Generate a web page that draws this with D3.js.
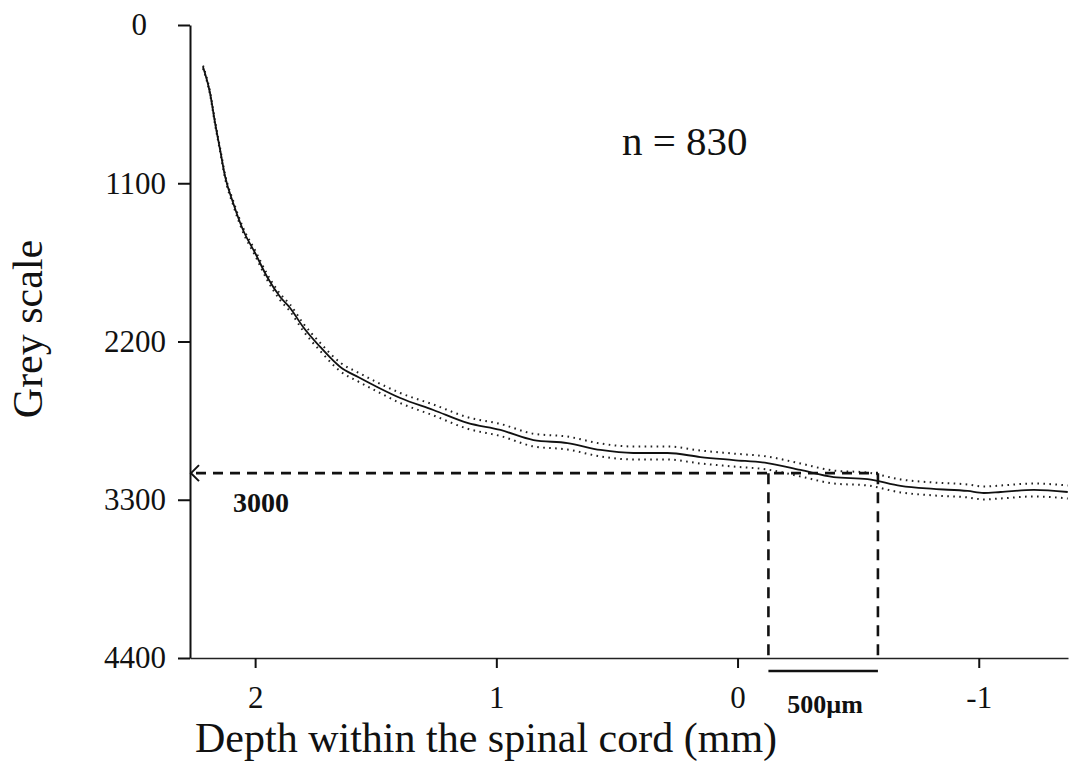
<!DOCTYPE html>
<html>
<head>
<meta charset="utf-8">
<script src="https://cdnjs.cloudflare.com/ajax/libs/d3/7.8.5/d3.min.js"></script>
<style>
  body { margin: 0; background: #fff; }
  svg { display: block; font-family: "Liberation Serif", "Times New Roman", serif; }
</style>
</head>
<body>
<svg width="1072" height="764"></svg>
<script>
// depth (mm), left = superficial
const depth = [2.216, 2.187, 2.166, 2.145, 2.124, 2.091, 2.050, 2.000, 1.950, 1.896,
               1.855, 1.801, 1.730, 1.647, 1.573, 1.494, 1.398, 1.261, 1.120, 0.983,
               0.846, 0.705, 0.568, 0.432, 0.290, 0.154, 0.017, -0.124, -0.261, -0.398,
               -0.539, -0.676, -0.813, -0.954, -1.021, -1.091, -1.228, -1.369];
// mean grey value at each depth
const greyMean = [292, 473, 681, 869, 1057, 1237, 1425, 1585, 1752, 1891,
                  1967, 2099, 2238, 2377, 2447, 2516, 2593, 2676, 2766, 2815,
                  2885, 2906, 2954, 2975, 2975, 3003, 3024, 3045, 3093, 3142,
                  3156, 3204, 3225, 3239, 3253, 3246, 3232, 3246];
// spread of the dotted band (+/-)
const greySem = [10, 10, 12, 12, 14, 15, 16, 18, 20, 22,
                 24, 26, 28, 30, 31, 32, 35, 38, 40, 42,
                 44, 45, 45, 45, 45, 45, 45, 45, 45, 45,
                 45, 45, 45, 45, 45, 45, 45, 45];

const yTicks = [0, 1100, 2200, 3300, 4400];
const xTicks = [2, 1, 0, -1];
const markValue = 3115;          // where the dashed guide sits on the scale
const markLabel = "3000";
const barDepths = [-0.128, -0.582]; // the 500 µm window
const nLabel = "n = 830";

let svg = d3.select("svg");
svg.append("rect").attr("width", 1072).attr("height", 764).attr("fill", "#fff");

let x = d3.scaleLinear().domain([2.27, -1.37]).range([190, 1068]);
let y = d3.scaleLinear().domain([0, 4400]).range([25, 658]);

let rows = depth.map((d, i) => ({d: d, m: greyMean[i], s: greySem[i]}));
const serif = "Liberation Serif, Times New Roman, serif";

// axes
let yAxis = d3.axisLeft(y).tickValues(yTicks).tickFormat(d => String(d))
              .tickSize(12).tickSizeOuter(0).tickPadding(12);
let gy = svg.append("g").attr("transform", "translate(190,0)").call(yAxis)
            .attr("font-family", serif).attr("font-size", 31);
gy.selectAll("text").attr("fill", "#111");
gy.selectAll("text").filter(d => d === 0).attr("dx", -19);

let xAxis = d3.axisBottom(x).tickValues(xTicks).tickFormat(d => String(d))
              .tickSize(10).tickSizeOuter(0).tickPadding(18);
let gx = svg.append("g").attr("transform", "translate(0,658)").call(xAxis)
            .attr("font-family", serif).attr("font-size", 31);
gx.selectAll("text").attr("fill", "#111");

gy.select(".domain").attr("stroke", "#111").attr("stroke-width", 2);
gy.selectAll(".tick line").attr("stroke", "#111").attr("stroke-width", 2);
gx.select(".domain").attr("stroke", "#222").attr("stroke-width", 1.6);
gx.selectAll(".tick line").attr("stroke", "#111").attr("stroke-width", 2);

// dotted spread lines
let line = d3.line().x(r => x(r.d)).curve(d3.curveMonotoneX);
[-1, 1].forEach(sign => {
  svg.append("path")
    .datum(rows)
    .attr("d", line.y(r => y(r.m + sign * r.s)))
    .attr("fill", "none")
    .attr("stroke", "#222")
    .attr("stroke-width", 2)
    .attr("stroke-dasharray", "1.6,4.4");
});

// mean curve
svg.append("path")
  .datum(rows)
  .attr("d", line.y(r => y(r.m)))
  .attr("fill", "none")
  .attr("stroke", "#111")
  .attr("stroke-width", 1.8);

// dashed guides
let gMark = svg.append("g").attr("stroke", "#111").attr("stroke-width", 2.6).attr("fill", "none");
gMark.append("line")
  .attr("x1", x.range()[0] + 6).attr("x2", x(barDepths[1]))
  .attr("y1", y(markValue)).attr("y2", y(markValue))
  .attr("stroke-dasharray", "10,7");
barDepths.forEach(d => {
  gMark.append("line")
    .attr("x1", x(d)).attr("x2", x(d))
    .attr("y1", y(markValue)).attr("y2", y(4400))
    .attr("stroke-dasharray", "11,8");
});
// arrow head at the axis
let ax = x.range()[0], ay = y(markValue);
gMark.append("path")
  .attr("d", `M${ax + 9},${ay - 8}L${ax + 1},${ay}L${ax + 9},${ay + 8}`)
  .attr("stroke-width", 2);

// scale bar under the axis
svg.append("line")
  .attr("x1", x(barDepths[0])).attr("x2", x(barDepths[1]))
  .attr("y1", 671).attr("y2", 671)
  .attr("stroke", "#111").attr("stroke-width", 2.6);

svg.append("text")
  .attr("x", (x(barDepths[0]) + x(barDepths[1])) / 2 + 2)
  .attr("y", 713)
  .attr("text-anchor", "middle")
  .attr("font-size", 26).attr("font-weight", "bold").attr("fill", "#111")
  .text("500µm");

svg.append("text")
  .attr("x", 233).attr("y", 512)
  .attr("font-size", 28).attr("font-weight", "bold").attr("fill", "#111")
  .text(markLabel);

svg.append("text")
  .attr("x", 622).attr("y", 155)
  .attr("font-size", 41).attr("fill", "#111")
  .text(nLabel);

// axis titles
svg.append("text")
  .attr("x", 195).attr("y", 752)
  .attr("font-size", 42).attr("fill", "#111")
  .text("Depth within the spinal cord (mm)");

svg.append("text")
  .attr("transform", "translate(42,329) rotate(-90)")
  .attr("text-anchor", "middle")
  .attr("font-size", 42).attr("fill", "#111")
  .text("Grey scale");
</script>
</body>
</html>
